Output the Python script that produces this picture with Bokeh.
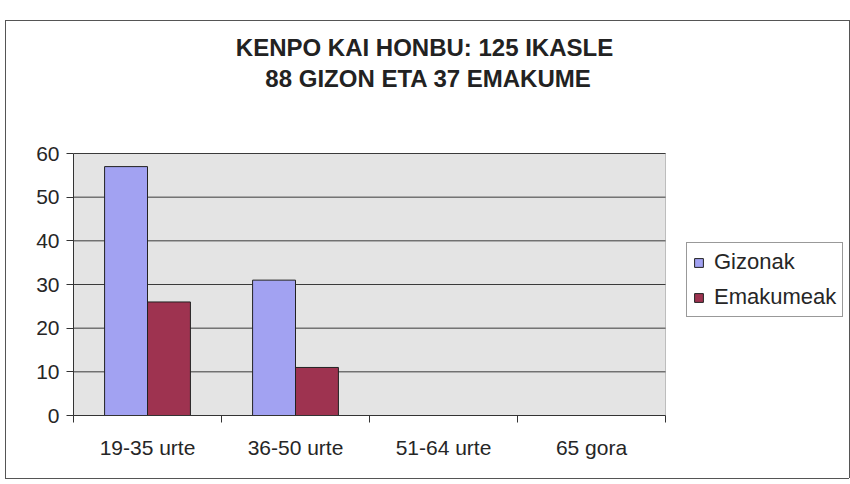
from bokeh.plotting import figure
from bokeh.models import (Range1d, FixedTicker, Legend, LegendItem, Label,
                          ColumnDataSource, BoxAnnotation)
from bokeh.embed import file_html
from bokeh.resources import INLINE
import numpy as np

title_line1 = "KENPO KAI HONBU: 125 IKASLE"
title_line2 = "88 GIZON ETA 37 EMAKUME"
categories = ["19-35 urte", "36-50 urte", "51-64 urte", "65 gora"]
series_names = ["Gizonak", "Emakumeak"]
gizonak = [57, 31, 0, 0]
emakumeak = [26, 11, 0, 0]
y_ticks = [0, 10, 20, 30, 40, 50, 60]

FONT = "Liberation Sans"
BLUE = "#a2a2f2"
RED = "#9e3350"

# layout (pixels)
W, H = 850, 484
AX_L, AX_R, AX_T, AX_B = 73, 665, 153, 415   # plot area in page pixels
n = len(categories)
ymax = y_ticks[-1]
px_x = (AX_R - AX_L) / n          # pixels per category
px_y = (AX_B - AX_T) / ymax       # pixels per unit
x_end = (W - AX_L) / px_x
y_end = AX_B / px_y

def to_x(px):
    return (px - AX_L) / px_x

def to_y(py):
    return (AX_B - py) / px_y

idx = np.arange(n) + 0.5
bar_w = 0.29
src = ColumnDataSource(dict(
    xg=idx - bar_w / 2, xe=idx + bar_w / 2,
    g=gizonak, e=emakumeak))

p = figure(width=W, height=H, output_backend="svg", toolbar_location=None,
           x_range=Range1d(0, x_end), y_range=Range1d(0, y_end),
           min_border_left=AX_L, min_border_right=0, min_border_bottom=H - AX_B,
           min_border_top=0, title=None)
p.background_fill_alpha = 0
p.border_fill_alpha = 0
p.outline_line_color = None
p.styles = {
    "background-color": "white",
    "background-image": ("linear-gradient(#555,#555), linear-gradient(#555,#555), "
                         "linear-gradient(#555,#555), linear-gradient(#555,#555)"),
    "background-size": "844px 1px, 1px 458px, 844px 1px, 1px 458px",
    "background-position": "5px 20px, 5px 20px, 5px 478px, 849px 20px",
    "background-repeat": "no-repeat",
}

# plot area
area = BoxAnnotation(left=0, right=n, bottom=0, top=ymax,
                     fill_color="#e4e4e4", fill_alpha=1,
                     line_color="#444444", line_width=1, level="image",
                     editable=False)
p.add_layout(area)

# horizontal gridlines limited to the plot area
grid_src = ColumnDataSource(dict(y=y_ticks[1:], x0=[0] * (len(y_ticks) - 1),
                                 x1=[n] * (len(y_ticks) - 1)))
p.segment(x0="x0", x1="x1", y0="y", y1="y", source=grid_src,
          line_color="#3a3a3a", line_width=1, level="underlay")

rg = p.vbar(x="xg", top="g", width=bar_w, source=src, fill_color=BLUE,
            line_color="#222222", line_width=1)
re = p.vbar(x="xe", top="e", width=bar_w, source=src, fill_color=RED,
            line_color="#222222", line_width=1)

# axes
p.xaxis.ticker = FixedTicker(ticks=list(idx), minor_ticks=list(range(n + 1)))
p.xaxis.major_label_overrides = {float(x): c for x, c in zip(idx, categories)}
p.xaxis.bounds = (0, n)
p.xaxis.major_tick_out = 0
p.xaxis.major_tick_in = 0
p.xaxis.minor_tick_out = 7
p.xaxis.minor_tick_in = 0
p.xaxis.major_label_standoff = 13
p.yaxis.ticker = FixedTicker(ticks=y_ticks, minor_ticks=[])
p.yaxis.bounds = (0, ymax)
p.yaxis.major_tick_out = 7
p.yaxis.major_tick_in = 0
p.yaxis.major_label_standoff = 7
for ax in (p.xaxis, p.yaxis):
    ax.axis_line_color = "#333333"
    ax.major_tick_line_color = "#333333"
    ax.minor_tick_line_color = "#333333"
    ax.major_label_text_font = FONT
    ax.major_label_text_font_size = "21px"
    ax.major_label_text_color = "#262626"

p.xgrid.grid_line_color = None
p.ygrid.grid_line_color = None

# titles
for txt, cx, cy in ((title_line1, 424, 47), (title_line2, 428, 78)):
    p.add_layout(Label(x=to_x(cx), y=to_y(cy), text=txt, text_align="center",
                       text_baseline="middle", text_font=FONT,
                       text_font_size="24px", text_font_style="bold",
                       text_color="#222222"))

legend = Legend(items=[LegendItem(label=series_names[0], renderers=[rg]),
                       LegendItem(label=series_names[1], renderers=[re])],
                location=(686 - AX_L, AX_B - 317), label_text_font=FONT,
                label_text_font_size="22px", label_text_color="#262626",
                glyph_width=11, glyph_height=11, spacing=9, padding=6,
                label_standoff=10, border_line_color="#333333",
                background_fill_color="white", background_fill_alpha=1,
                margin=0)
p.add_layout(legend, "center")

open("out.html", "w").write(file_html(p, INLINE))
